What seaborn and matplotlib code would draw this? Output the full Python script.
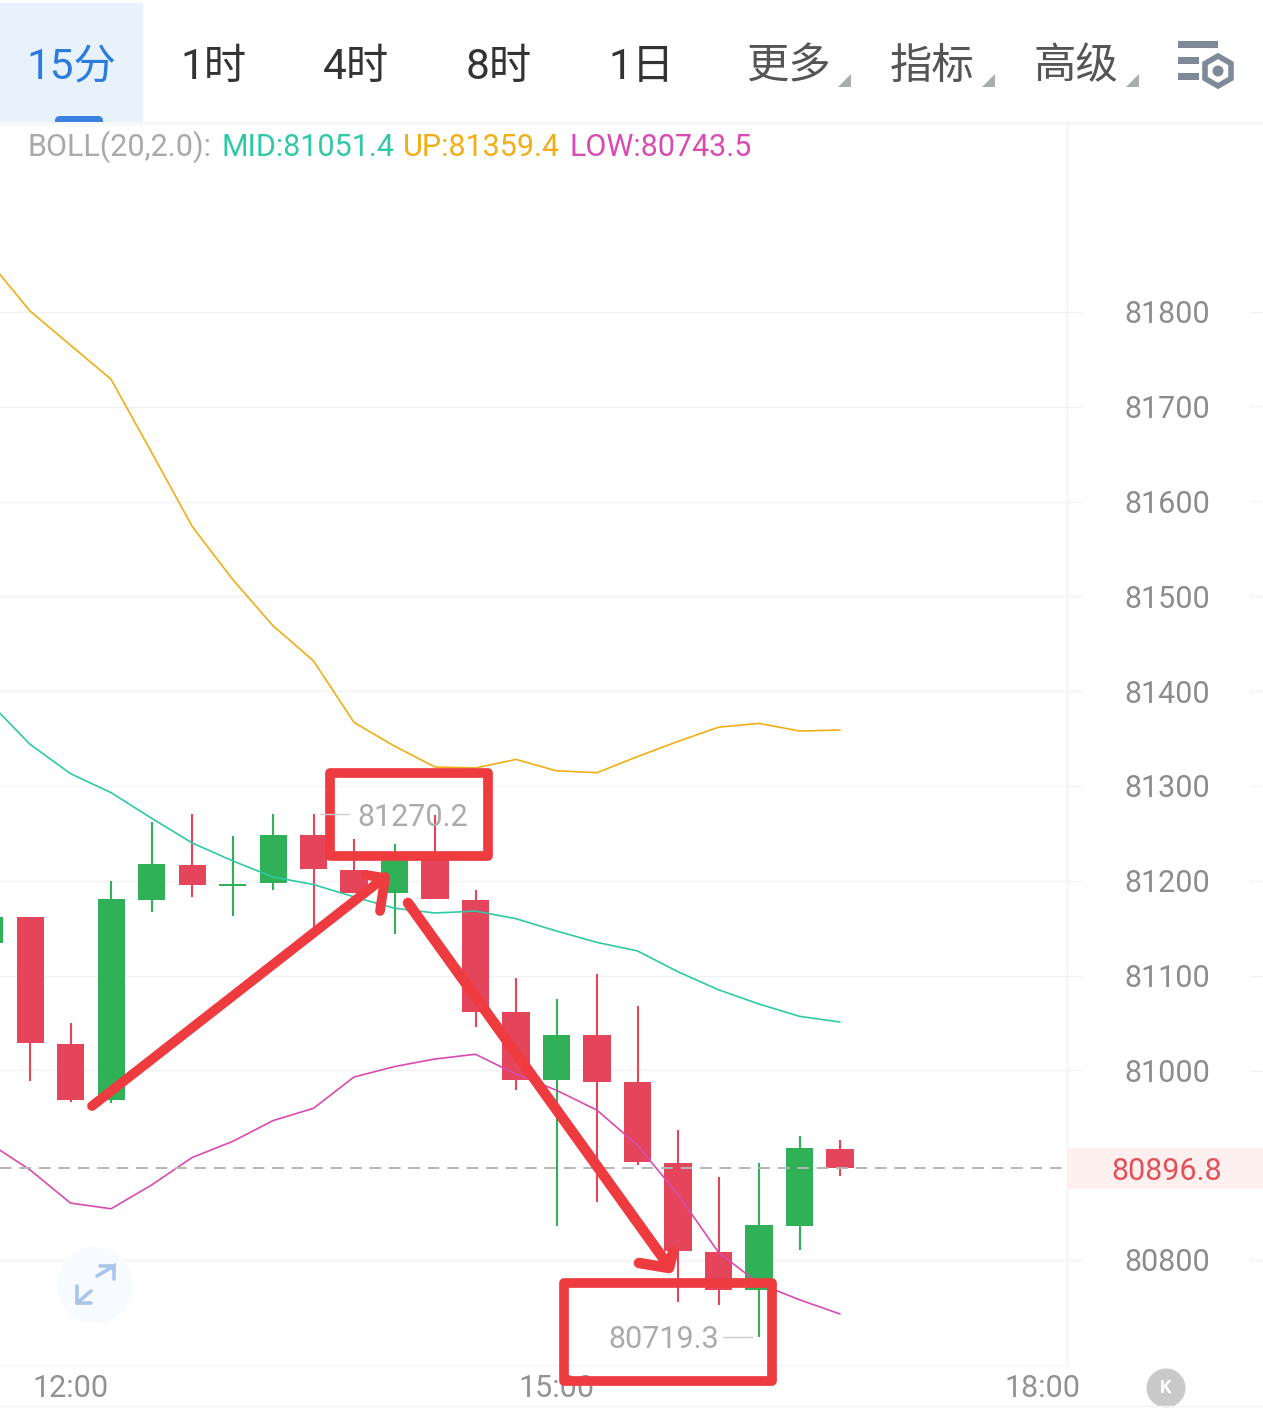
import numpy as np
import pandas as pd
import seaborn as sns
import matplotlib
matplotlib.use("Agg")
import matplotlib.pyplot as plt
from matplotlib.patches import Rectangle, Circle, RegularPolygon, FancyBboxPatch, Polygon

sns.set_theme(style="white")
plt.rcParams['font.family'] = ['Roboto', 'Noto Sans CJK SC', 'DejaVu Sans']

# ---------- data ----------
opens = [81134, 81162, 81028, 80969, 81180, 81217, 81194, 81198, 81248, 81211, 81187, 81227,
         81180, 81062, 80990, 81037, 80988, 80902, 80808, 80768, 80836, 80917]
closes = [81162, 81029, 80969, 81181, 81218, 81196, 81197, 81248, 81212, 81187, 81222, 81181,
          81062, 80990, 81037, 80988, 80903, 80809, 80768, 80837, 80918, 80897]
highs = [81162, 81162, 81050, 81200, 81262, 81270, 81247, 81270, 81270, 81244, 81239, 81269,
         81190, 81097, 81075, 81102, 81068, 80937, 80887, 80902, 80931, 80927]
lows = [81134, 80989, 80967, 80966, 81167, 81183, 81163, 81190, 81148, 81187, 81144, 81181,
        81046, 80979, 80836, 80861, 80900, 80756, 80752, 80719, 80810, 80889]
boll_up = [81853, 81801, 81765, 81729, 81652, 81574, 81518, 81469, 81432, 81367, 81342, 81320,
           81319, 81328, 81316, 81314, 81331, 81347, 81362, 81366, 81358, 81359]
boll_mid = [81388, 81344, 81313, 81293, 81266, 81240, 81221, 81204, 81196, 81183, 81171, 81166,
            81168, 81160, 81147, 81135, 81126, 81104, 81085, 81070, 81057, 81051]
boll_low = [80923, 80895, 80860, 80854, 80879, 80908, 80925, 80947, 80960, 80993, 81004, 81012,
            81017, 80996, 80979, 80958, 80921, 80869, 80808, 80775, 80758, 80743]
candle_index = list(range(-1, 21))
price_ticks = [80800, 81000, 81100, 81200, 81300, 81400, 81500, 81600, 81700, 81800]
price_labels = ['80800', '81000', '81100', '81200', '81300', '81400', '81500', '81600', '81700', '81800']
time_ticks = [1, 13, 25]
time_labels = ['12:00', '15:00', '18:00']
last_price = 80896.8
tabs = ['15分', '1时', '4时', '8时', '1日', '更多', '指标', '高级']

RED = '#e5455a'
GREEN = '#30b158'
GRID = '#f1f2f4'
MARK = '#ee3b40'

W, H = 1263, 1416
fig = plt.figure(figsize=(W / 100, H / 100), dpi=100, facecolor='white')

# chart axes: pixels 0..1067 horizontally, 122..1365 vertically
ax = fig.add_axes([0, (H - 1365) / H, 1067 / W, (1365 - 122) / H])
ax.set_xlim(-0.741, 25.605)
ax.set_ylim(80689.2, 82000.4)

df = pd.DataFrame({'i': candle_index * 3,
                   'v': boll_up + boll_mid + boll_low,
                   'band': ['UP'] * 22 + ['MID'] * 22 + ['LOW'] * 22})
sns.lineplot(data=df, x='i', y='v', hue='band', ax=ax, legend=False, errorbar=None, sort=False,
             palette={'UP': '#f0ae17', 'MID': '#2fc9a5', 'LOW': '#d94bb0'},
             linewidth=1.2, zorder=4)

o = np.array(opens); c = np.array(closes)
colors = [GREEN if b > a else RED for a, b in zip(o, c)]
ax.vlines(candle_index, lows, highs, colors=colors, linewidth=1.5, zorder=2)
ax.bar(candle_index, np.abs(c - o), bottom=np.minimum(o, c), width=0.667, color=colors,
       linewidth=0, zorder=3)
ax.axhline(last_price, color='#b5b5b5', lw=1.4, ls=(0, (6, 4)), zorder=5)

ax.yaxis.tick_right()
ax.set_yticks(price_ticks)
ax.set_yticklabels(price_labels)
ax.set_xticks(time_ticks)
ax.set_xticklabels(time_labels)
ax.set_xlabel('')
ax.set_ylabel('')
ax.grid(True, axis='y', color=GRID, lw=1)
ax.grid(False, axis='x')
ax.tick_params(axis='y', length=11.5, width=0.8, color=GRID, pad=29.5, labelsize=22,
               labelcolor='#8c8c8c', right=True, left=False)
ax.tick_params(axis='x', length=0, pad=6.5, labelsize=22, labelcolor='#929292')
for s in ('top', 'left'):
    ax.spines[s].set_visible(False)
for s in ('right', 'bottom'):
    ax.spines[s].set_color(GRID)
    ax.spines[s].set_linewidth(1)

# overlay in image pixels for the app chrome and hand-drawn marks
ov = fig.add_axes([0, 0, 1, 1], zorder=10)
ov.set_xlim(0, W)
ov.set_ylim(H, 0)
ov.axis('off')
ov.patch.set_alpha(0)

# tab bar
ov.add_patch(Rectangle((0, 3), 143, 119, color='#e8f2fd', lw=0))
ov.add_patch(FancyBboxPatch((55, 116), 48, 12, boxstyle='round,pad=0,rounding_size=5', color='#3b82e0', lw=0))
ov.add_patch(Rectangle((0, 122), 143, 7, color='white', lw=0))
tab_x = [71, 213, 356, 499, 641, 788, 932, 1076]
tab_c = ['#2b7cdc', '#333333', '#333333', '#333333', '#333333', '#555555', '#555555', '#555555']
for t, x, col in zip(tabs, tab_x, tab_c):
    ov.text(x, 67, t, ha='center', va='center', fontsize=30.5, color=col)
for x in (851, 995, 1139):
    ov.add_patch(Polygon([[x, 74], [x, 87], [x - 13, 87]], color='#a9adb2', lw=0))
ov.plot([0, W], [122.5, 122.5], color=GRID, lw=1)
ov.plot([0, W], [1406, 1406], color=GRID, lw=1)

# settings icon
ICON = '#7f8997'
ov.add_patch(Rectangle((1178, 41), 40, 7, color=ICON, lw=0))
ov.add_patch(Rectangle((1178, 57), 21, 7, color=ICON, lw=0))
ov.add_patch(Rectangle((1178, 73), 21, 7, color=ICON, lw=0))
ov.add_patch(RegularPolygon((1218, 71), 6, radius=15, fill=False, ec=ICON, lw=4))
ov.add_patch(Circle((1218, 71), 5.5, fc=ICON, ec='none'))

# BOLL legend
for x, t, col in [(28, 'BOLL(20,2.0):', '#a9a9a9'), (222, 'MID:81051.4', '#2fc9a5'),
                  (403, 'UP:81359.4', '#f0ae17'), (570, 'LOW:80743.5', '#d94bb0')]:
    ov.text(x, 147, t, ha='left', va='center', fontsize=22, color=col)

# right-hand details
for y in (312, 406, 501, 596, 691, 786, 881, 976, 1071, 1260):
    ov.plot([1250, W], [y, y], color=GRID, lw=1)
ov.add_patch(Rectangle((1068, 1148), 195, 41, color='#fdf0ef', lw=0))
ov.text(1167, 1172, '80896.8', ha='center', va='center', fontsize=22, color='#e2505a')
ov.add_patch(Circle((1166, 1388), 19.5, color='#c9c9c9', lw=0))
ov.text(1166, 1388, 'K', ha='center', va='center', fontsize=13, color='white', fontweight='bold')

# expand button
ov.add_patch(Circle((95, 1285), 38, color='#f7fafe', lw=0))
ARW = '#a9c5ea'
ov.plot([97, 114, 114], [1276, 1266, 1279], color=ARW, lw=2.6, solid_joinstyle='miter')
ov.plot([100, 114], [1266, 1266], color=ARW, lw=2.6)
ov.plot([77, 91], [1303, 1291], color=ARW, lw=2.6)
ov.plot([77, 77, 91], [1286, 1303, 1303], color=ARW, lw=2.6)

# high / low labels
ov.text(357, 818, '81270.2', ha='left', va='center', fontsize=22, color='#ababab')
ov.plot([320, 349], [814, 814], color='#cccccc', lw=1)
ov.text(608, 1340, '80719.3', ha='left', va='center', fontsize=22, color='#ababab')
ov.plot([723, 752], [1337, 1337], color='#cccccc', lw=1)

# hand-drawn red marks
box = dict(fill=False, ec=MARK, lw=7, joinstyle='round')
ov.add_patch(Rectangle((329.5, 773), 158.5, 83, **box))
ov.add_patch(Rectangle((563.5, 1283), 208, 98, **box))
pen = dict(color=MARK, solid_capstyle='round', solid_joinstyle='round')
ov.plot([92, 385], [1106, 877], lw=7, **pen)
ov.plot([366, 385, 380], [875, 878, 911], lw=7, **pen)
ov.plot([408, 668], [903, 1265], lw=7.6, **pen)
ov.plot([639, 669, 673], [1263, 1268, 1252], lw=7.6, **pen)

fig.savefig('out.png', dpi=100)
